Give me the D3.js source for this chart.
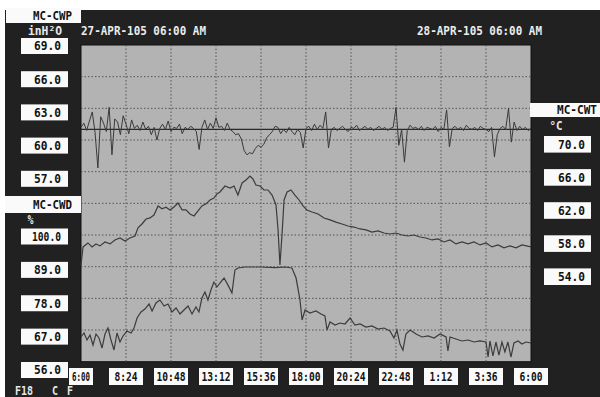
<!DOCTYPE html>
<html>
<head>
<meta charset="utf-8">
<script src="https://cdn.jsdelivr.net/npm/d3@7"></script>
<style>
body { margin: 0; background: #fff; }
svg { display: block; }
text { font-family: "DejaVu Sans Mono", monospace; font-weight: bold; }
</style>
</head>
<body>
<script>
// time axis : hours after 27-APR 06:00
var startLabel = "27-APR-105 06:00 AM";
var endLabel = "28-APR-105 06:00 AM";
var timeTicks = [0, 2.4, 4.8, 7.2, 9.6, 12, 14.4, 16.8, 19.2, 21.6, 24];
var timeLabels = ["6:00", "8:24", "10:48", "13:12", "15:36", "18:00", "20:24", "22:48", "1:12", "3:36", "6:00"];

// axis labels of the 3 pens
var pressTicks = [69, 66, 63, 60, 57];
var pctTicks = [100, 89, 78, 67, 56];
var tempTicks = [70, 66, 62, 58, 54];

// MC-CWP (inH2O), one sample every 0.15 h
var pressSetpoint = 61.0;
var pressStep = 0.15;
var pressure = [
  61.2, 61.6, 60.9, 61.8, 62.66, 60.7, 57.35, 62.2, 61.6, 60.8,
  63.1, 58.6, 62.0, 61.7, 60.5, 62.3, 61.5, 60.6, 61.9, 61.1,
  61.4, 60.9, 61.7, 61.0, 61.3, 60.5, 61.2, 60.0, 61.1, 61.5,
  61.0, 61.8, 60.8, 61.2, 61.1, 61.5, 60.6, 61.2, 61.0, 61.3,
  61.1, 60.8, 59.1, 61.2, 61.9, 61.0, 61.6, 61.1, 62.1, 61.2,
  61.3, 60.9, 61.6, 61.0, 60.8, 60.5, 60.6, 60.1, 59.0, 58.6,
  58.8, 58.7, 59.2, 59.5, 59.3, 59.6, 60.2, 60.5, 60.8, 61.3,
  61.2, 60.6, 61.0, 60.7, 61.2, 60.8, 60.5, 61.0, 60.7, 59.25,
  61.1, 61.3, 60.9, 61.5, 61.0, 61.4, 61.1, 62.66, 59.25, 61.0,
  61.2, 60.9, 61.1, 61.3, 61.0, 60.8, 61.2, 61.1, 61.4, 60.9,
  61.1, 61.3, 61.0, 61.2, 60.9, 61.1, 61.3, 61.0, 61.2, 60.9,
  61.1, 61.2, 63.1, 59.5, 61.0, 57.9, 60.9, 61.4, 61.1, 61.2,
  61.0, 61.3, 60.9, 61.2, 61.1, 61.0, 61.3, 60.8, 61.2, 61.0,
  62.85, 59.35, 61.1, 61.3, 61.0, 61.2, 60.9, 61.4, 61.1, 61.0,
  61.2, 60.9, 61.3, 61.1, 61.0, 60.8, 61.2, 58.4, 60.5, 61.1,
  61.3, 61.0, 63.0, 59.8, 61.7, 60.9, 61.3, 61.0, 61.2, 60.9, 61.1
];

// MC-CWT (degC) : [hour, value]
var temperature = [
  [0, 55.42], [0.11, 57.6], [0.37, 58.08], [0.59, 57.6], [0.8, 57.96], [1.01, 57.72],
  [1.28, 58.2], [1.55, 57.96], [1.81, 58.44], [2.08, 58.68], [2.35, 58.32], [2.61, 58.68],
  [2.88, 58.92], [3.04, 59.9], [3.25, 60.37], [3.47, 60.97], [3.68, 61.1], [3.89, 61.45],
  [4.11, 62.55], [4.32, 62.2], [4.53, 62.4], [4.75, 62.06], [4.96, 62.43], [5.17, 62.9],
  [5.39, 62.07], [5.6, 62.07], [5.81, 61.58], [6.03, 61.34], [6.24, 61.95], [6.45, 62.55],
  [6.67, 62.8], [6.88, 63.27], [7.09, 63.51], [7.25, 64.0], [7.41, 64.24], [7.68, 64.96],
  [7.95, 64.72], [8.16, 64.96], [8.37, 63.87], [8.59, 65.33], [8.8, 65.69], [9.01, 66.17],
  [9.17, 65.81], [9.33, 65.08], [9.55, 64.96], [9.76, 64.48], [9.97, 64.48], [10.19, 63.87],
  [10.4, 62.67], [10.51, 59.65], [10.61, 55.42], [10.72, 59.05], [10.83, 63.27], [10.99, 64.24],
  [11.2, 64.48], [11.41, 63.87], [11.63, 63.27], [11.84, 62.55], [12.05, 62.06], [12.32, 61.82],
  [12.64, 61.58], [12.96, 61.1], [13.28, 60.86], [13.6, 60.6], [13.92, 60.37], [14.24, 60.13],
  [14.56, 60.0], [14.88, 59.77], [15.2, 59.65], [15.52, 59.4], [15.84, 59.53], [16.16, 59.28],
  [16.48, 59.16], [16.8, 59.28], [17.12, 59.04], [17.44, 58.92], [17.76, 59.04], [18.08, 58.8],
  [18.4, 58.68], [18.72, 58.44], [19.04, 58.56], [19.36, 58.2], [19.68, 58.44], [20.0, 57.96],
  [20.32, 58.2], [20.64, 57.96], [20.96, 58.2], [21.28, 57.84], [21.6, 58.08], [21.92, 57.6],
  [22.24, 57.84], [22.56, 57.48], [22.88, 57.72], [23.2, 57.48], [23.52, 57.84], [24, 57.6]
];

// MC-CWD (%) : [hour, value]
var cwd = [
  [0, 64.58], [0.16, 65.97], [0.32, 63.54], [0.48, 65.27], [0.64, 61.8], [0.8, 65.62],
  [0.96, 64.23], [1.12, 60.75], [1.28, 65.62], [1.44, 67.7], [1.6, 63.54], [1.76, 60.06],
  [1.92, 65.97], [2.08, 62.84], [2.24, 64.93], [2.45, 66.66], [2.67, 65.97], [2.83, 67.7],
  [2.99, 71.18], [3.2, 73.26], [3.41, 74.3], [3.63, 76.04], [3.79, 73.6], [4.0, 76.4],
  [4.21, 77.43], [4.43, 75.35], [4.64, 76.04], [4.85, 73.26], [5.07, 74.65], [5.28, 72.57],
  [5.49, 73.96], [5.71, 75.35], [5.92, 72.57], [6.13, 75.0], [6.29, 73.26], [6.45, 78.12],
  [6.61, 80.21], [6.77, 77.43], [6.93, 80.9], [7.09, 83.68], [7.25, 81.94], [7.41, 83.33],
  [7.63, 85.06], [7.84, 82.6], [8.05, 79.86], [8.21, 87.85], [8.37, 88.55], [8.75, 88.9],
  [9.55, 88.9], [10.35, 88.7], [10.88, 88.9], [11.25, 88.55], [11.47, 85.06], [11.68, 77.43],
  [11.79, 70.48], [11.95, 73.96], [12.21, 72.9], [12.53, 73.6], [12.8, 72.57], [13.01, 71.87],
  [13.12, 67.0], [13.28, 69.79], [13.55, 68.75], [13.81, 69.44], [14.08, 69.1], [14.35, 71.18],
  [14.61, 68.75], [14.88, 69.1], [15.2, 68.05], [15.52, 68.4], [15.84, 67.35], [16.16, 67.7],
  [16.48, 66.66], [16.69, 64.23], [16.85, 67.0], [17.01, 62.15], [17.17, 60.06], [17.33, 65.62],
  [17.55, 67.0], [17.87, 65.62], [18.19, 64.58], [18.51, 64.93], [18.83, 64.23], [19.15, 65.62],
  [19.47, 64.58], [19.57, 59.72], [19.68, 64.58], [20.0, 63.89], [20.32, 63.2], [20.64, 63.54],
  [20.96, 62.84], [21.28, 63.2], [21.6, 62.84], [21.71, 57.63], [21.81, 63.2], [21.97, 57.98],
  [22.13, 62.84], [22.29, 58.32], [22.45, 62.84], [22.61, 59.37], [22.77, 62.84], [22.93, 57.63],
  [23.09, 62.5], [23.31, 63.2], [23.52, 62.15], [23.73, 62.84], [24, 62.5]
];

var W = 600, H = 397;
var plotL = 81, plotR = 531, plotT = 45, plotB = 361.7;

var svg = d3.select("body").append("svg")
  .attr("width", W)
  .attr("height", H);

// scales
var x = d3.scaleLinear().domain([0, 24]).range([plotL, plotR]);
var grid = d3.scaleLinear().domain([0, 10]).range([plotT, plotB]);
var yPress = d3.scaleLinear().domain([69, 54]).range([plotT, grid(5)]);
var yPct = d3.scaleLinear().domain([56, 100]).range([plotB, grid(6)]);
var yTemp = d3.scaleLinear().domain([54, 70]).range([276.7, 144.3]);
// where the instrument prints the left hand labels
var pressLabelY = d3.scaleLinear().domain([69, 57]).range([46, 178.8]);
var pctLabelY = d3.scaleLinear().domain([100, 56]).range([236.5, 370]);

// dark screen
svg.append("rect").attr("x", 5).attr("y", 10).attr("width", W - 5).attr("height", H - 10).attr("fill", "#212121");

// plot area
svg.append("rect")
  .attr("x", plotL).attr("y", plotT)
  .attr("width", plotR - plotL).attr("height", plotB - plotT)
  .attr("fill", "#b3b3b3")
  .attr("stroke", "#111").attr("stroke-width", 1);

// dotted grid
svg.append("g").selectAll("line")
  .data(timeTicks.slice(1, -1))
  .enter().append("line")
  .attr("x1", function(d) { return x(d); })
  .attr("x2", function(d) { return x(d); })
  .attr("y1", plotT).attr("y2", plotB)
  .attr("stroke", "#555").attr("stroke-dasharray", "1.5,2");

svg.append("g").selectAll("line")
  .data(d3.range(1, 10))
  .enter().append("line")
  .attr("x1", plotL).attr("x2", plotR)
  .attr("y1", function(d) { return grid(d); })
  .attr("y2", function(d) { return grid(d); })
  .attr("stroke", "#555").attr("stroke-dasharray", "1.5,2");

// setpoint line of the pressure pen
svg.append("line")
  .attr("x1", plotL).attr("x2", plotR)
  .attr("y1", yPress(pressSetpoint)).attr("y2", yPress(pressSetpoint))
  .attr("stroke", "#2a2a2a").attr("stroke-width", 1.3);

// the three pens
var pressLine = d3.line()
  .x(function(d, i) { return x(i * pressStep); })
  .y(function(d) { return yPress(d); });

svg.append("path").datum(pressure)
  .attr("d", pressLine)
  .attr("fill", "none").attr("stroke", "#3a3a3a").attr("stroke-width", 1);

svg.append("path").datum(temperature)
  .attr("d", d3.line().x(function(d) { return x(d[0]); }).y(function(d) { return yTemp(d[1]); }))
  .attr("fill", "none").attr("stroke", "#3c3c3c").attr("stroke-width", 1.2);

svg.append("path").datum(cwd)
  .attr("d", d3.line().x(function(d) { return x(d[0]); }).y(function(d) { return yPct(d[1]); }))
  .attr("fill", "none").attr("stroke", "#3c3c3c").attr("stroke-width", 1.2);

// white label boxes
function box(x0, y0, w, h) {
  svg.append("rect").attr("x", x0).attr("y", y0).attr("width", w).attr("height", h)
    .attr("fill", "#fafafa");
}
function label(t, tx, ty, anchor, col, len) {
  var el = svg.append("text").attr("x", tx).attr("y", ty)
    .attr("text-anchor", anchor || "start")
    .attr("font-size", 12)
    .attr("fill", col || "#111")
    .text(t);
  if (len) el.attr("textLength", len).attr("lengthAdjust", "spacingAndGlyphs");
  return el;
}

// pen names and units
box(6, 8, 75, 15);
label("MC-CWP", 72, 19.5, "end", "#111", 39);
label("inH²O", 45, 35, "middle", "#e8e8e8", 34);

box(5, 196, 76, 17);
label("MC-CWD", 72, 209, "end", "#111", 39);
label("%", 30.5, 224, "middle", "#e8e8e8", 6);

box(530, 103, 70, 14);
label("MC-CWT", 597, 114, "end", "#111", 40);
label("°C", 556, 130, "middle", "#e8e8e8", 13);

// dates
label(startLabel, plotL, 35, "start", "#ececec", 125);
label(endLabel, 417, 35, "start", "#ececec", 125);

// left hand value labels
pressTicks.forEach(function(v) {
  var c = pressLabelY(v);
  box(21, c - 8, 47, 16);
  label(v.toFixed(1), 61, c + 4.3, "end", "#111", 27);
});
pctTicks.forEach(function(v) {
  var c = pctLabelY(v);
  var t = v.toFixed(1);
  box(21, c - 8, 47, 16);
  label(t, 61, c + 4.3, "end", "#111", t.length > 4 ? 29 : 27);
});

// right hand value labels
tempTicks.forEach(function(v) {
  var c = yTemp(v);
  box(544, c - 8.3, 47, 16.6);
  label(v.toFixed(1), 585, c + 4.3, "end", "#111", 27);
});

// time labels
timeTicks.forEach(function(t, i) {
  var cx = x(t);
  var x0 = Math.max(cx - 17, 69);
  var x1 = i === 0 ? 93 : cx + 17;
  box(x0, 368, x1 - x0, 17);
  var s = timeLabels[i];
  label(s, (x0 + x1) / 2, 381, "middle", "#111", s.length > 4 ? 29 : (i === 0 ? 18 : 23));
});

// function key line
label("F18", 15, 394.5, "start", "#e8e8e8", 18);
label("C", 52, 394.5, "start", "#e8e8e8", 6);
label("F", 67, 394.5, "start", "#e8e8e8", 6);
</script>
</body>
</html>
